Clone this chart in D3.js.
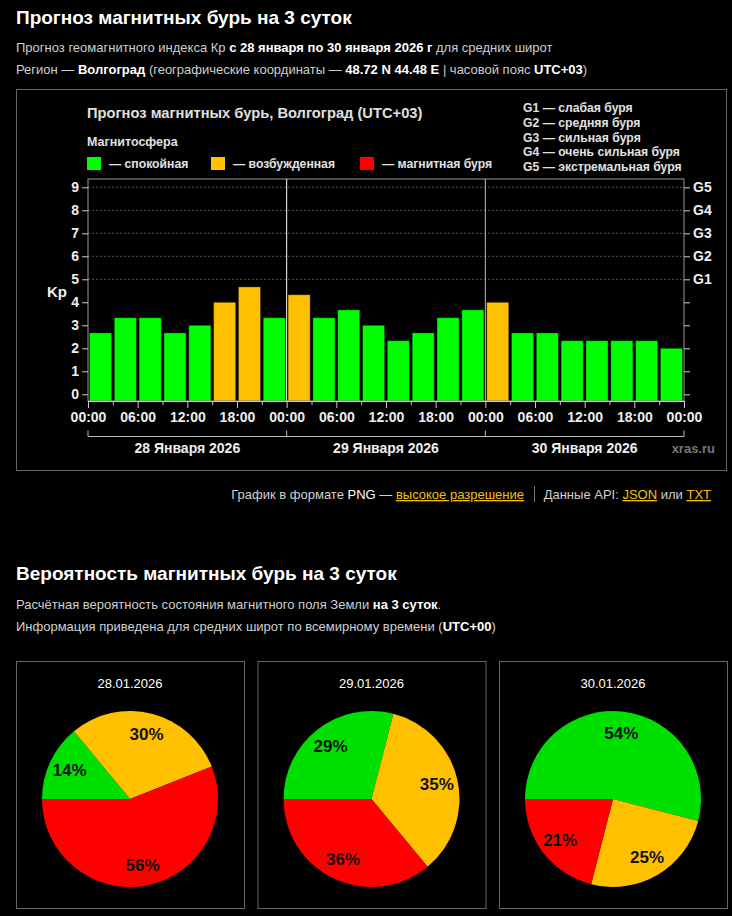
<!DOCTYPE html>
<html>
<head>
<meta charset="utf-8">
<script src="https://cdn.jsdelivr.net/npm/d3@7"></script>
<style>
  body { margin: 0; background: #000; }
  svg { display: block; font-family: Arial, 'Liberation Sans', sans-serif; }
</style>
</head>
<body>
<div id="page"></div>
<script>
// Kp forecast, 3-hour steps (28-30 Jan 2026, UTC+03)
const kpValues = [
  2.67, 3.33, 3.33, 2.67, 3.00, 4.00, 4.67, 3.33,
  4.33, 3.33, 3.67, 3.00, 2.33, 2.67, 3.33, 3.67,
  4.00, 2.67, 2.67, 2.33, 2.33, 2.33, 2.33, 2.00
];
const dayLabels = ['28 Января 2026', '29 Января 2026', '30 Января 2026'];
const yTicks = [0, 1, 2, 3, 4, 5, 6, 7, 8, 9];
const gLabels = ['G1', 'G2', 'G3', 'G4', 'G5'];
const gLegend = ['G1 — слабая буря', 'G2 — средняя буря', 'G3 — сильная буря',
  'G4 — очень сильная буря', 'G5 — экстремальная буря'];

// probabilities: quiet / active / storm
const pieDates = ['28.01.2026', '29.01.2026', '30.01.2026'];
const pieQuiet = [14, 29, 54];
const pieActive = [30, 35, 25];
const pieStorm = [56, 36, 21];

const green = '#00ff00';
const orange = '#ffc000';
const red = '#ff0000';
const pieGreen = '#00e000';

const width = 732;
const height = 916;

const svg = d3.select('#page').append('svg')
  .attr('width', width)
  .attr('height', height);

// ---- page texts
const addLine = (y, parts, opts = {}) => {
  const t = svg.append('text')
    .attr('x', opts.x || 16)
    .attr('y', y)
    .attr('text-anchor', opts.anchor || 'start')
    .style('font-size', `${opts.size || 13}px`);
  parts.forEach((p) => {
    const s = t.append('tspan').text(p[0]);
    if (p[1] === 'b') s.attr('fill', '#fff').style('font-weight', 'bold');
    else if (p[1] === 'a') s.attr('fill', '#f2c200').style('text-decoration', 'underline');
    else if (p[1] === 'w') s.attr('fill', '#fff');
    else s.attr('fill', '#cfcfcf');
  });
  return t;
};

svg.append('text')
  .attr('x', 16).attr('y', 24)
  .attr('fill', '#fff')
  .style('font-size', '19px').style('font-weight', 'bold')
  .text('Прогноз магнитных бурь на 3 суток');
addLine(52, [['Прогноз геомагнитного индекса Кр '], ['с 28 января по 30 января 2026 г', 'b'], [' для средних широт']]);
addLine(74, [['Регион — '], ['Волгоград', 'b'], [' (географические координаты — '], ['48.72 N 44.48 E', 'b'], [' | часовой пояс '], ['UTC+03', 'b'], [')']]);

// ---- chart box
svg.append('rect')
  .attr('x', 16.5).attr('y', 89.5)
  .attr('width', 710).attr('height', 381)
  .attr('fill', '#000').attr('stroke', '#666');

const chart = svg.append('g');
const plotLeft = 88;
const plotRight = 684;
const plotTop = 179;
const plotBottom = 401;

chart.append('text')
  .attr('x', 87).attr('y', 118)
  .attr('fill', '#e0e0e0')
  .style('font-size', '14.7px').style('font-weight', 'bold')
  .text('Прогноз магнитных бурь, Волгоград (UTC+03)');
chart.append('text')
  .attr('x', 87).attr('y', 146)
  .attr('fill', '#e0e0e0')
  .style('font-size', '12.5px').style('font-weight', 'bold')
  .text('Магнитосфера');

const legendItems = [
  { c: green, t: '— спокойная', x: 87 },
  { c: orange, t: '— возбужденная', x: 211 },
  { c: red, t: '— магнитная буря', x: 360 }
];
legendItems.forEach((d) => {
  chart.append('rect')
    .attr('x', d.x).attr('y', 157)
    .attr('width', 14).attr('height', 13)
    .attr('fill', d.c);
  chart.append('text')
    .attr('x', d.x + 22).attr('y', 168)
    .attr('fill', '#e0e0e0')
    .style('font-size', '12.2px').style('font-weight', 'bold')
    .text(d.t);
});

chart.selectAll('.g-legend')
  .data(gLegend)
  .enter()
  .append('text')
  .attr('class', 'g-legend')
  .attr('x', 523)
  .attr('y', (d, i) => 112 + i * 14.8)
  .attr('fill', '#e0e0e0')
  .style('font-size', '12.2px').style('font-weight', 'bold')
  .text((d) => d);

// scales
const yScale = d3.scaleLinear()
  .domain([0, 9])
  .range([394.3, 187.3]);

const xBand = d3.scaleBand()
  .domain(d3.range(kpValues.length))
  .range([plotLeft, plotRight])
  .paddingInner(0.11)
  .paddingOuter(0.06);

const t0 = new Date(2026, 0, 28, 0, 0);
const t1 = new Date(2026, 0, 31, 0, 0);
const xTime = d3.scaleTime()
  .domain([t0, t1])
  .range([plotLeft, plotRight]);

// grid
chart.append('g')
  .selectAll('line')
  .data(yTicks.filter((d) => d >= 5))
  .enter()
  .append('line')
  .attr('x1', plotLeft).attr('x2', plotRight)
  .attr('y1', (d) => yScale(d)).attr('y2', (d) => yScale(d))
  .attr('stroke', '#555')
  .attr('stroke-dasharray', '2,2');

// bars
const barColor = (v) => {
  if (v >= 5) return red;
  if (v >= 4) return orange;
  return green;
};
chart.append('g')
  .selectAll('rect')
  .data(kpValues)
  .enter()
  .append('rect')
  .attr('x', (d, i) => xBand(i))
  .attr('y', (d) => yScale(d))
  .attr('width', xBand.bandwidth())
  .attr('height', (d) => plotBottom - yScale(d))
  .attr('fill', (d) => barColor(d))
  .attr('stroke', 'rgba(0,0,0,0.35)')
  .attr('stroke-width', 1);

// frame
chart.append('rect')
  .attr('x', plotLeft).attr('y', plotTop)
  .attr('width', plotRight - plotLeft).attr('height', plotBottom - plotTop)
  .attr('fill', 'none')
  .attr('stroke', '#999');

// day separators
const dayTimes = [1, 2].map((d) => d3.timeDay.offset(t0, d));
chart.append('g')
  .selectAll('line')
  .data(dayTimes)
  .enter()
  .append('line')
  .attr('x1', (d) => xTime(d)).attr('x2', (d) => xTime(d))
  .attr('y1', plotTop).attr('y2', plotBottom)
  .attr('stroke', (d, i) => (i === 0 ? '#fff' : '#bbb'));

// x axis
const xAxis = d3.axisBottom(xTime)
  .tickValues(d3.timeHour.every(3).range(t0, d3.timeHour.offset(t1, 1)))
  .tickSize(6)
  .tickFormat((d) => (d.getHours() % 6 === 0 ? d3.timeFormat('%H:%M')(d) : ''));
const gx = chart.append('g')
  .attr('transform', `translate(0 ${plotBottom})`)
  .call(xAxis);
gx.select('.domain').attr('stroke', '#ccc');
gx.selectAll('.tick line')
  .attr('stroke', '#ccc')
  .attr('y2', (d) => (d.getHours() % 6 === 0 ? 7 : 4));
gx.selectAll('.tick text')
  .attr('fill', '#eee')
  .attr('y', 11)
  .style('font-size', '14px')
  .style('font-weight', 'bold')
  .style('font-family', 'Arial, sans-serif');

// y axis left
const yAxis = d3.axisLeft(yScale)
  .tickValues(yTicks)
  .tickSize(6)
  .tickFormat(d3.format('d'));
const gy = chart.append('g')
  .attr('transform', `translate(${plotLeft} 0)`)
  .call(yAxis);
gy.select('.domain').remove();
gy.selectAll('.tick line').attr('stroke', '#ccc');
gy.selectAll('.tick text')
  .attr('fill', '#eee')
  .attr('x', -9)
  .style('font-size', '14px')
  .style('font-weight', 'bold')
  .style('font-family', 'Arial, sans-serif');

// y axis right (G scale)
const yAxisR = d3.axisRight(yScale)
  .tickValues(yTicks)
  .tickSize(6)
  .tickFormat((d) => (d >= 5 ? gLabels[d - 5] : ''));
const gyr = chart.append('g')
  .attr('transform', `translate(${plotRight} 0)`)
  .call(yAxisR);
gyr.select('.domain').remove();
gyr.selectAll('.tick line').attr('stroke', '#ccc');
gyr.selectAll('.tick text')
  .attr('fill', '#eee')
  .attr('x', 9)
  .style('font-size', '14px')
  .style('font-weight', 'bold')
  .style('font-family', 'Arial, sans-serif');

chart.append('text')
  .attr('x', 57).attr('y', 297)
  .attr('text-anchor', 'middle')
  .attr('fill', '#eee')
  .style('font-size', '15px').style('font-weight', 'bold')
  .text('Kp');

// day bracket
const bracketY = 436.5;
const bracketTimes = [t0, ...dayTimes, t1];
chart.append('line')
  .attr('x1', plotLeft).attr('x2', plotRight)
  .attr('y1', bracketY).attr('y2', bracketY)
  .attr('stroke', '#bbb');
chart.append('g')
  .selectAll('line')
  .data(bracketTimes)
  .enter()
  .append('line')
  .attr('x1', (d) => xTime(d)).attr('x2', (d) => xTime(d))
  .attr('y1', bracketY - 6).attr('y2', bracketY)
  .attr('stroke', '#bbb');
chart.append('g')
  .selectAll('text')
  .data(dayLabels)
  .enter()
  .append('text')
  .attr('x', (d, i) => (xTime(bracketTimes[i]) + xTime(bracketTimes[i + 1])) / 2)
  .attr('y', 453)
  .attr('text-anchor', 'middle')
  .attr('fill', '#eee')
  .style('font-size', '14px').style('font-weight', 'bold')
  .text((d) => d);
chart.append('text')
  .attr('x', 715).attr('y', 453)
  .attr('text-anchor', 'end')
  .attr('fill', '#777')
  .style('font-size', '13px').style('font-weight', 'bold')
  .text('xras.ru');

// links line
addLine(499, [['График в формате '], ['PNG', 'w'], [' — '], ['высокое разрешение', 'a']], { x: 524, anchor: 'end' });
svg.append('line')
  .attr('x1', 534.5).attr('x2', 534.5)
  .attr('y1', 486).attr('y2', 502)
  .attr('stroke', '#777');
addLine(499, [['Данные API: '], ['JSON', 'a'], [' или '], ['TXT', 'a']], { x: 711, anchor: 'end' });

// ---- second section
svg.append('text')
  .attr('x', 16).attr('y', 580)
  .attr('fill', '#fff')
  .style('font-size', '19px').style('font-weight', 'bold')
  .text('Вероятность магнитных бурь на 3 суток');
addLine(609, [['Расчётная вероятность состояния магнитного поля Земли '], ['на 3 суток', 'b'], ['.']]);
addLine(631, [['Информация приведена для средних широт по всемирному времени ('], ['UTC+00', 'b'], [')']]);

// pies
const pieColors = [pieGreen, orange, red];
const pie = d3.pie()
  .sort(null)
  .value((d) => d)
  .startAngle(-Math.PI / 2)
  .endAngle(Math.PI * 1.5);
const radius = 88;
const arc = d3.arc().innerRadius(0).outerRadius(radius);
const labelArc = d3.arc().innerRadius(radius * 0.76).outerRadius(radius * 0.76);

const boxX = [16, 257.5, 499];
pieDates.forEach((date, i) => {
  const g = svg.append('g').attr('transform', `translate(${boxX[i]} 661)`);
  g.append('rect')
    .attr('x', 0.5).attr('y', 0.5)
    .attr('width', 228).attr('height', 247)
    .attr('fill', '#000')
    .attr('stroke', '#666');
  g.append('text')
    .attr('x', 114).attr('y', 27)
    .attr('text-anchor', 'middle')
    .attr('fill', '#fff')
    .style('font-size', '13px')
    .text(date);
  const vals = [pieQuiet[i], pieActive[i], pieStorm[i]];
  const pg = g.append('g').attr('transform', 'translate(114 138)');
  const arcs = pie(vals);
  pg.selectAll('path')
    .data(arcs)
    .enter()
    .append('path')
    .attr('d', arc)
    .attr('fill', (d, j) => pieColors[j]);
  pg.selectAll('text')
    .data(arcs)
    .enter()
    .append('text')
    .attr('transform', (d) => `translate(${labelArc.centroid(d)})`)
    .attr('text-anchor', 'middle')
    .attr('dy', '0.35em')
    .attr('fill', '#111')
    .style('font-size', '17px').style('font-weight', 'bold')
    .text((d) => `${d.data}%`);
});
</script>
</body>
</html>
